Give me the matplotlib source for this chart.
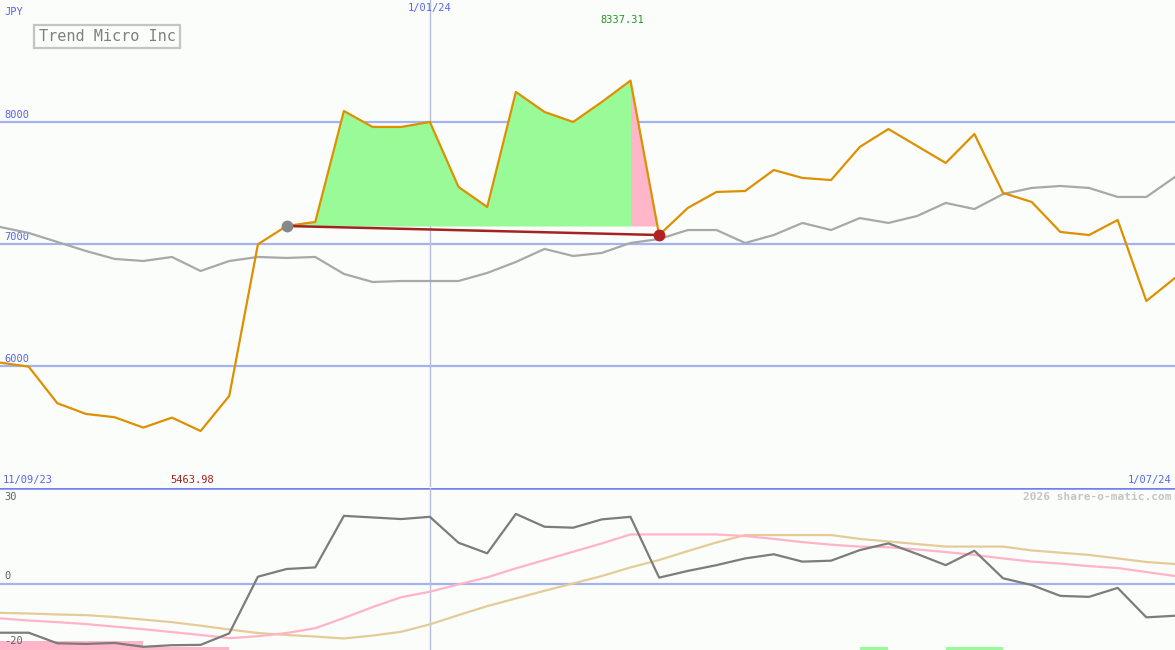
import numpy as np
import matplotlib.pyplot as plt

# weekly closes, Trend Micro (JPY)
price = [6025, 5992, 5692, 5604, 5577, 5492, 5574, 5464, 5752, 6995,
         7145, 7178, 8088, 7957, 7957, 7998, 7465, 7301, 8244, 8080,
         7998, 8162, 8337, 7071, 7293, 7424, 7432, 7604, 7539, 7522,
         7793, 7940, 7801, 7662, 7899, 7416, 7342, 7096, 7071, 7194,
         6530, 6719]

# comparison index (rescaled)
index = [7137, 7088, 7014, 6940, 6875, 6858, 6891, 6776, 6858, 6891,
         6883, 6891, 6752, 6686, 6694, 6694, 6694, 6760, 6850, 6957,
         6899, 6924, 7006, 7038, 7112, 7112, 7006, 7071, 7170, 7112,
         7210, 7170, 7227, 7334, 7284, 7407, 7457, 7473, 7457, 7383,
         7383, 7547]

# lower panel: momentum and its averages
momentum = [-15.2, -15.2, -18.5, -18.7, -18.4, -19.6, -19.1, -19.0, -15.4, 2.3,
            4.7, 5.2, 21.3, 20.8, 20.3, 21.0, 12.9, 9.6, 21.9, 17.9,
            17.6, 20.2, 21.0, 2.0, 4.1, 5.9, 8.0, 9.3, 7.0, 7.3,
            10.6, 12.7, 9.4, 5.9, 10.4, 1.8, -0.3, -3.7, -4.0, -1.2,
            -10.4, -9.9]
avg_fast = [-10.7, -11.4, -11.9, -12.5, -13.3, -14.1, -15.0, -15.9, -16.9, -16.3,
            -15.3, -13.8, -10.6, -7.2, -4.1, -2.4, -0.1, 2.1, 4.9, 7.5,
            10.1, 12.7, 15.5, 15.5, 15.5, 15.5, 15.0, 14.1, 13.1, 12.3,
            11.7, 11.5, 10.8, 10.0, 9.1, 8.0, 7.0, 6.4, 5.6, 5.0,
            3.75, 2.5]
avg_slow = [-9.0, -9.2, -9.5, -9.7, -10.3, -11.1, -11.9, -13.0, -14.2, -15.3,
            -15.9, -16.4, -17.0, -16.1, -14.9, -12.6, -9.7, -6.9, -4.5, -2.1,
            0.2, 2.5, 5.2, 7.5, 10.3, 13.0, 15.3, 15.3, 15.3, 15.3,
            14.1, 13.3, 12.5, 11.7, 11.7, 11.7, 10.5, 9.8, 9.1, 8.0,
            6.9, 6.25]
# signal strip at the bottom (+ green, - pink)
signal = [-2.8, -2.8, -2.8, -2.8, -2.8, -1, -1, -1, 0, 0,
          0, 0, 0, 0, 0, 0, 0, 0, 0, 0,
          0, 0, 0, 0, 0, 0, 0, 0, 0, 0,
          1, 0, 0, 1, 1, 0, 0, 0, 0, 0,
          0, 0]

entry_i, exit_i = 10, 23
newyear_i = 15
min_label = '5463.98'
max_label = '8337.31'

bg = '#fbfdfb'
blue = '#5566ee'
mono = 'DejaVu Sans Mono'
x = np.arange(len(price))
n = len(price) - 1
p = np.array(price, dtype=float)

fig = plt.figure(figsize=(11.75, 6.5), dpi=100, facecolor=bg)
ax = fig.add_axes([0, 163 / 650, 1, 487 / 650], facecolor=bg)
ax2 = fig.add_axes([0, 0, 1, 162 / 650], facecolor=bg)

for a in (ax, ax2):
    a.set_xlim(0, n)
    a.set_xticks([])
    a.set_yticks([])
    for s in a.spines.values():
        s.set_visible(False)

# --- top panel
ax.set_ylim(5005, 8998)
for lvl in (6000, 7000, 8000):
    ax.axhline(lvl, color='#a4b3f0', lw=1.6, zorder=1)
    ax.text(0.004, lvl + 15, str(lvl), transform=ax.get_yaxis_transform(),
            color=blue, fontsize=7.5, family=mono, va='bottom')
ax.axvline(newyear_i, color='#b4bcd8', lw=1, zorder=1)

# trade shading: gain up to the top, then giveback to the exit
entry = p[entry_i]
top_i = int(np.argmax(p))
ax.fill_between(x[entry_i:top_i + 1], entry, p[entry_i:top_i + 1],
                color='#98fb98', lw=0, zorder=2)
seg = x[top_i:exit_i + 1]
pseg = p[top_i:exit_i + 1]
ax.fill_between(seg, entry, pseg, where=pseg > entry, interpolate=True,
                color='#ffb6c8', lw=0, zorder=2)

ax.plot(x, index, color='#a8a8a8', lw=1.6, zorder=3)
ax.plot(x, price, color='#dd9000', lw=1.6, zorder=4)
ax.plot([entry_i, exit_i], [p[entry_i], p[exit_i]],
        color='#a52222', lw=1.8, zorder=5)
ax.plot(entry_i, p[entry_i], 'o', color='#888888', ms=7.5, zorder=6)
ax.plot(exit_i, p[exit_i], 'o', color='#b22222', ms=7.5, zorder=6)

ax.text(0.004, 0.985, 'JPY', transform=ax.transAxes, color=blue,
        fontsize=7.5, family=mono, va='top')
ax.text(0.033, 0.925, 'Trend Micro Inc', transform=ax.transAxes,
        color='#808080', fontsize=11, family=mono, va='center',
        bbox=dict(boxstyle='square,pad=0.28', fc=bg, ec='#c4c4c4', lw=1.6))
ax.text(newyear_i, 0.993, '1/01/24', transform=ax.get_xaxis_transform(),
        color=blue, fontsize=7.5, family=mono, ha='center', va='top')
ax.text(top_i - 0.3, 0.97, max_label, transform=ax.get_xaxis_transform(),
        color='#229922', fontsize=7.5, family=mono, ha='center', va='top')
ax.text(0.002, 0.005, '11/09/23', transform=ax.transAxes, color=blue,
        fontsize=7.5, family=mono, va='bottom')
ax.text(int(np.argmin(p)) - 0.3, 0.005, min_label, transform=ax.get_xaxis_transform(),
        color='#a02020', fontsize=7.5, family=mono, ha='center', va='bottom')
ax.text(0.997, 0.005, '1/07/24', transform=ax.transAxes, color=blue,
        fontsize=7.5, family=mono, ha='right', va='bottom')

# --- bottom panel
ax2.set_ylim(-20.6, 30)
ax2.axhline(30, color='#7080ee', lw=1.8, zorder=1)
ax2.axhline(0, color='#a4b3f0', lw=1.6, zorder=1)
ax2.axvline(newyear_i, color='#b4bcd8', lw=1, zorder=1)
sig = np.array(signal, dtype=float)
cols = ['#98fb98' if v > 0 else '#ffb6c8' for v in sig]
ax2.bar(x, np.abs(sig), bottom=-20.6, width=1, align='edge', color=cols, lw=0, zorder=2)
ax2.plot(x, avg_slow, color='#e4cc98', lw=1.6, zorder=3)
ax2.plot(x, avg_fast, color='#ffb4c8', lw=1.6, zorder=3)
ax2.plot(x, momentum, color='#7c7c7c', lw=1.6, zorder=4)

ax2.text(0.004, 0.975, '30', transform=ax2.transAxes, color='#606060',
         fontsize=7.5, family=mono, va='top')
ax2.text(0.004, 0.8, '0', transform=ax2.get_yaxis_transform(), color='#606060',
         fontsize=7.5, family=mono, va='bottom')
ax2.text(0.004, -19.4, '-20', transform=ax2.get_yaxis_transform(), color='#606060',
         fontsize=7.5, family=mono, va='bottom')
ax2.text(0.997, 0.975, '2026 share-o-matic.com', transform=ax2.transAxes,
         color='#c4c4c4', fontsize=8, fontweight='bold', family=mono,
         ha='right', va='top')

fig.savefig('out.png', dpi=100, facecolor=bg)
